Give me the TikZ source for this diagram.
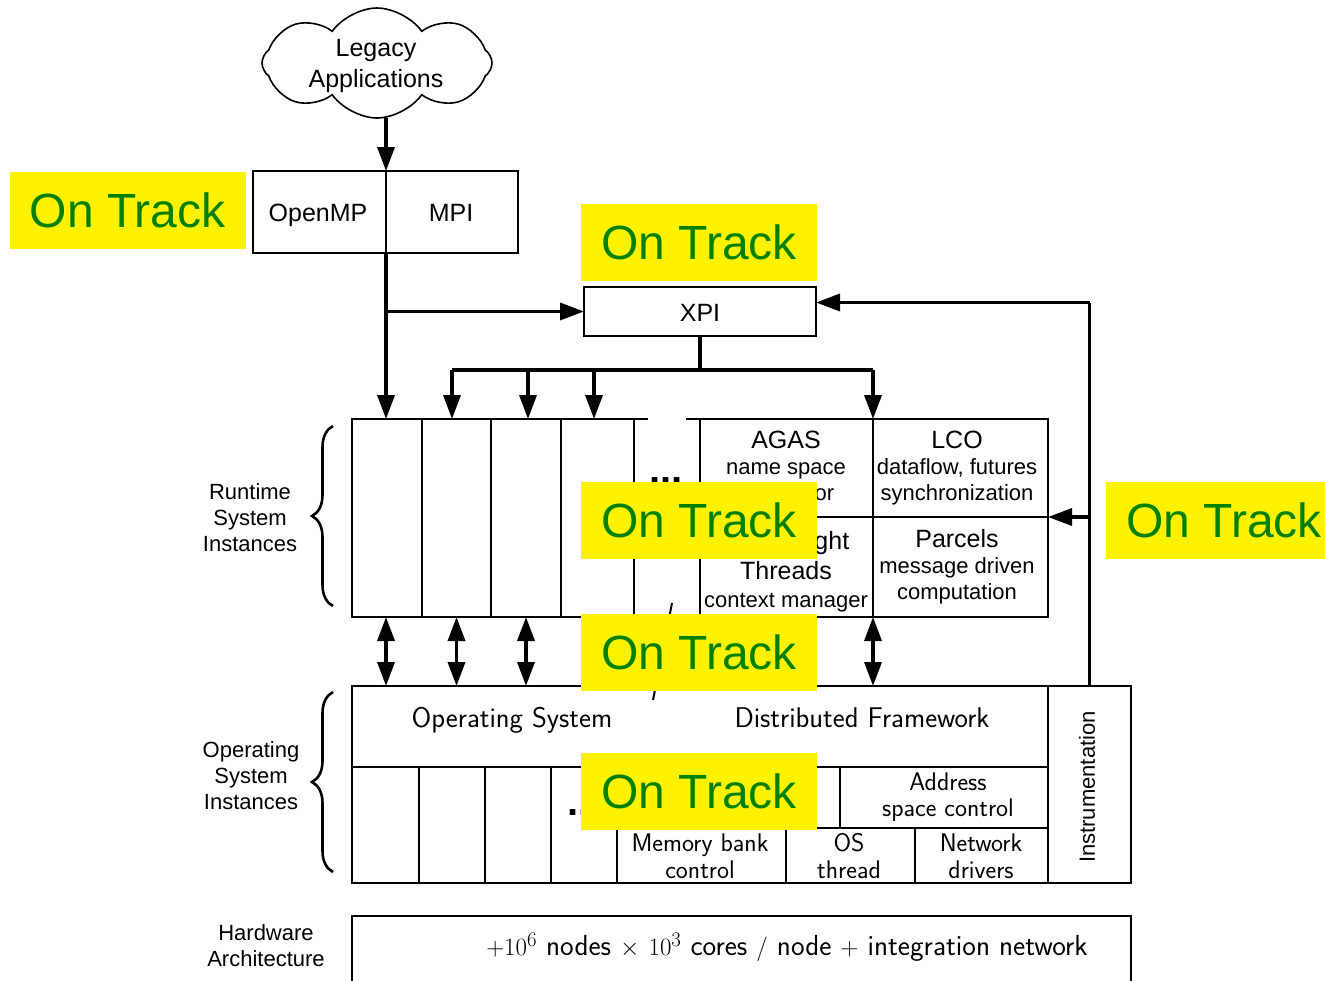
\documentclass[tikz,border=0pt]{standalone}
\usepackage{fontspec}
\newfontfamily\arial{Liberation Sans}
\usetikzlibrary{shapes.symbols,arrows.meta,decorations.pathreplacing,calc,fit}
\definecolor{ontrack}{RGB}{0,128,0}

\tikzset{
  frame/.style={draw, line width=1.6pt, inner sep=0pt, outer sep=0pt},
  txt/.style={inner sep=0pt, outer sep=0pt, align=center},
  big/.style={txt, font=\arial\fontsize{25}{31}\selectfont},
  small/.style={txt, font=\arial\fontsize{22}{26}\selectfont},
  lmlarge/.style={txt, font=\sffamily\fontsize{28.5}{31}\selectfont},
  lmsmall/.style={txt, font=\sffamily\fontsize{25.5}{26.5}\selectfont},
  edge/.style={line width=1.6pt},
  flow/.style={line width=3.5pt, -{Triangle[length=24pt,width=17pt]}},
  twoway/.style={line width=3.5pt, {Triangle[length=24pt,width=17pt]}-{Triangle[length=24pt,width=17pt]}},
  trunk/.style={line width=3.5pt},
  brace/.style={line width=2.6pt, decorate, decoration={brace, amplitude=21pt}},
  badge/.style={fill=yellow, text=ontrack, inner sep=0pt, outer sep=0pt,
    minimum width=236pt, minimum height=77pt, font=\arial\fontsize{48}{48}\selectfont},
}
\newcommand{\bigline}[1]{{\fontsize{25}{30}\selectfont #1}}

\begin{document}
\begin{tikzpicture}[x=1pt,y=-1pt]
\useasboundingbox (0,0) rectangle (1325,980);
\clip (0,0) rectangle (1325,980);

% ---- applications layer
\node[cloud, draw, line width=1.6pt, cloud puffs=8, cloud puff arc=110, aspect=2.1,
      minimum width=230pt, minimum height=110pt, inner sep=0pt]
      (legacy) at (377,63) {};
\node[big] (legacytext) at (376,66) {Legacy\\Applications};
\node[frame, fit={(253,171) (386,253)}] (openmp) {};
\node[frame, fit={(386,171) (518,253)}] (mpi) {};
\node[frame, fit={(584,287) (816,336)}] (xpi) {};
\node[big, anchor=base] (openmptext) at (318,221) {OpenMP};
\node[big, anchor=base] (mpitext) at (451,221) {MPI};
\node[big, anchor=base] (xpitext) at (700,321) {XPI};

% ---- runtime system instances
\node[frame, fit={(352,419) (422,617)}] (rt1) {};
\node[frame, fit={(422,419) (491,617)}] (rt2) {};
\node[frame, fit={(491,419) (561,617)}] (rt3) {};
\node[frame, fit={(561,419) (634,617)}] (rt4) {};
\draw[edge] (rt4.north east) -- ++(14,0);
\draw[edge] (rt4.south east) -- ++(14,0);
\node[frame, fit={(700,419) (873,517)}] (agas) {};
\node[frame, fit={(873,419) (1048,517)}] (lco) {};
\node[frame, fit={(700,517) (873,617)}] (threads) {};
\node[frame, fit={(873,517) (1048,617)}] (parcels) {};
\node[small] (agastext) at (786,468.5) {\bigline{AGAS}\\name space\\processor};
\node[small] (lcotext) at (957,468.5) {\bigline{LCO}\\dataflow, futures\\synchronization};
\node[small] (threadstext) at (786,571.5) {\bigline{Lightweight}\\[4pt]\bigline{Threads}\\[2pt]context manager};
\node[small] (parcelstext) at (957,567) {\bigline{Parcels}\\message driven\\computation};
\draw[edge] (agas.north west) -- ++(-14,0);
\draw[edge] (threads.south west) -- ++(-14,0);
\node[anchor=base west, font=\arial\bfseries\fontsize{40}{40}\selectfont] (rtdots) at (646,483) {...};
\draw[line width=2pt] (672,603) -- (653,700);

% ---- operating system instances
\node[frame, fit={(352,686) (1048,767)}] (ostop) {};
\node[lmlarge, anchor=base] (osname) at (512,727) {Operating System};
\node[lmlarge, anchor=base] (dfname) at (862,727) {Distributed Framework};
\node[frame, fit={(1048,686) (1131,883)}] (instr) {};
\node[small, rotate=90] (instrlabel) at (1087,787) {Instrumentation};
\node[frame, fit={(352,767) (419,883)}] (os1) {};
\node[frame, fit={(419,767) (485,883)}] (os2) {};
\node[frame, fit={(485,767) (551,883)}] (os3) {};
\draw[edge] (os3.south east) -- ++(66,0);
\node[anchor=base west, font=\arial\bfseries\fontsize{40}{40}\selectfont] (osdots) at (564,815) {...};
\node[frame, fit={(840,767) (1048,828)}] (addr) {};
\node[frame, fit={(617,828) (786,883)}] (mem) {};
\node[frame, fit={(786,828) (915,883)}] (osthread) {};
\node[frame, fit={(915,828) (1048,883)}] (netdrv) {};
\node[lmsmall] (addrtext) at (948,797) {Address\\space control};
\node[lmsmall] (memtext) at (700,856) {Memory bank\\control};
\node[lmsmall] (osthreadtext) at (849,856) {OS\\thread};
\node[lmsmall] (netdrvtext) at (981,856) {Network\\drivers};

% ---- hardware
\node[frame, fit={(352,916) (1131,1000)}] (hw) {};
\node[font=\sffamily\fontsize{29}{31}\selectfont, inner sep=0pt] (hwtext) at (787,947)
  {$+10^6$ nodes $\times$ $10^3$ cores $/$ node $+$ integration network};

% ---- side labels and braces
\node[small] (rtlabel) at (250,518) {Runtime\\System\\Instances};
\node[small] (oslabel) at (251,776) {Operating\\System\\Instances};
\node[small] (hwlabel) at (266,946) {Hardware\\Architecture};
\draw[brace] (333,606) -- (333,426);
\draw[brace] (333,872) -- (333,692);

% ---- connectors
\coordinate (cloudfoot) at (386,118);
\draw[flow] (cloudfoot) -- (cloudfoot |- openmp.north east);
\draw[flow] (openmp.south east) -- (openmp.south east |- rt1.north);
\draw[flow] (openmp.south east |- xpi.west) -- (xpi.west);
\draw[trunk] (xpi.south) -- ++(0,34) coordinate (busmid);
\coordinate (bus1) at (452,370);
\coordinate (bus2) at (528,370);
\coordinate (bus3) at (594,370);
\draw[trunk] (bus1) -- (agas.north east |- busmid);
\draw[flow] (bus1) -- (bus1 |- rt2.north);
\draw[flow] (bus2) -- (bus2 |- rt3.north);
\draw[flow] (bus3) -- (bus3 |- rt4.north);
\draw[flow] (agas.north east |- busmid) -- (agas.north east);
\draw[twoway] (386,617) -- (386,686);
\draw[twoway] (rt2.south) -- (rt2.south |- ostop.north);
\draw[twoway] (rt3.south) -- (rt3.south |- ostop.north);
\draw[twoway] (threads.south east) -- (threads.south east |- ostop.north);
\coordinate (fbtop) at ($(instr.north |- xpi.east)+(0,-9)$);
\draw[trunk] (instr.north) -- (fbtop);
\draw[flow] (fbtop) -- (xpi.east |- fbtop);
\draw[flow] (instr.north |- parcels.north east) -- (parcels.north east);

% ---- status badges
\node[badge] (st1) at (127.5,210.5) {On Track};
\node[badge] (st2) at (699,242.5) {On Track};
\node[badge] (st3) at (699,520.5) {On Track};
\node[badge] (st4) at (699,652) {On Track};
\node[badge] (st5) at (699,791.5) {On Track};
\node[badge] (st6) at (1224,520.5) {On Track};
\end{tikzpicture}
\end{document}
